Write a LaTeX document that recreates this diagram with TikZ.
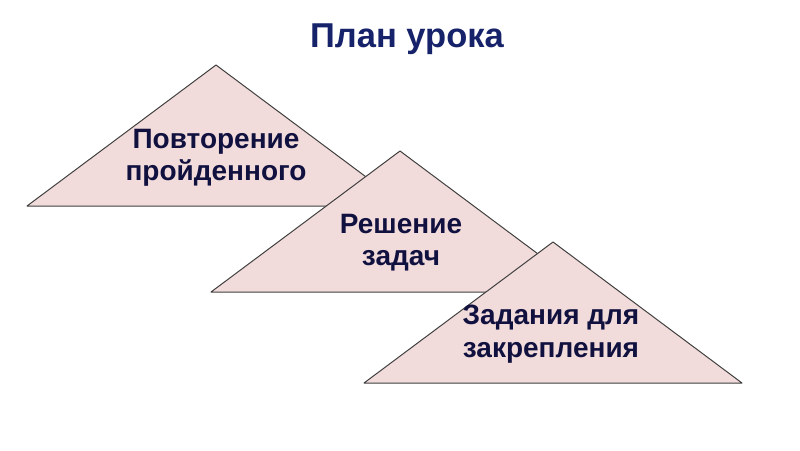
\documentclass[tikz,border=0pt]{standalone}
\usepackage{fontspec}
\setmainfont{Liberation Sans}
\definecolor{planfill}{HTML}{F2DCDB}
\definecolor{planedge}{HTML}{404040}
\definecolor{plantext}{HTML}{111140}
\definecolor{plantitle}{HTML}{16226A}
\tikzset{
    stage/.style={draw=planedge, fill=planfill, line width=1pt, line join=round},
    stagetext/.style={font=\fontsize{28}{32.5}\selectfont\bfseries, text=plantext, align=center, inner sep=0, anchor=north}
}
\begin{document}
\begin{tikzpicture}[x=1pt, y=-1pt]
        \useasboundingbox (0,0) rectangle (800,450);
        \node [font=\fontsize{34.5}{40}\selectfont\bfseries, text=plantitle, anchor=base] (Title) at (407,47) {План урока};
        % three steps, each one lying over the one before
        \foreach \name/\ax/\ay in {Repeat/216/65, Solve/400/151, Fix/553/242} {
            \coordinate (\name Top) at (\ax,\ay);
            \path [stage] (\name Top) -- ++(189,141) -- ++(-378,0) -- cycle;
        }
        \begin{scope}[every node/.style={stagetext}]
            \node (Repeat) at (216,129) {Повторение\\пройденного};
            \node (Solve) at (401,214) {Решение\\задач};
            \node (Fix) at (551,305) {Задания для\\закрепления};
        \end{scope}
    \end{tikzpicture}
\end{document}
